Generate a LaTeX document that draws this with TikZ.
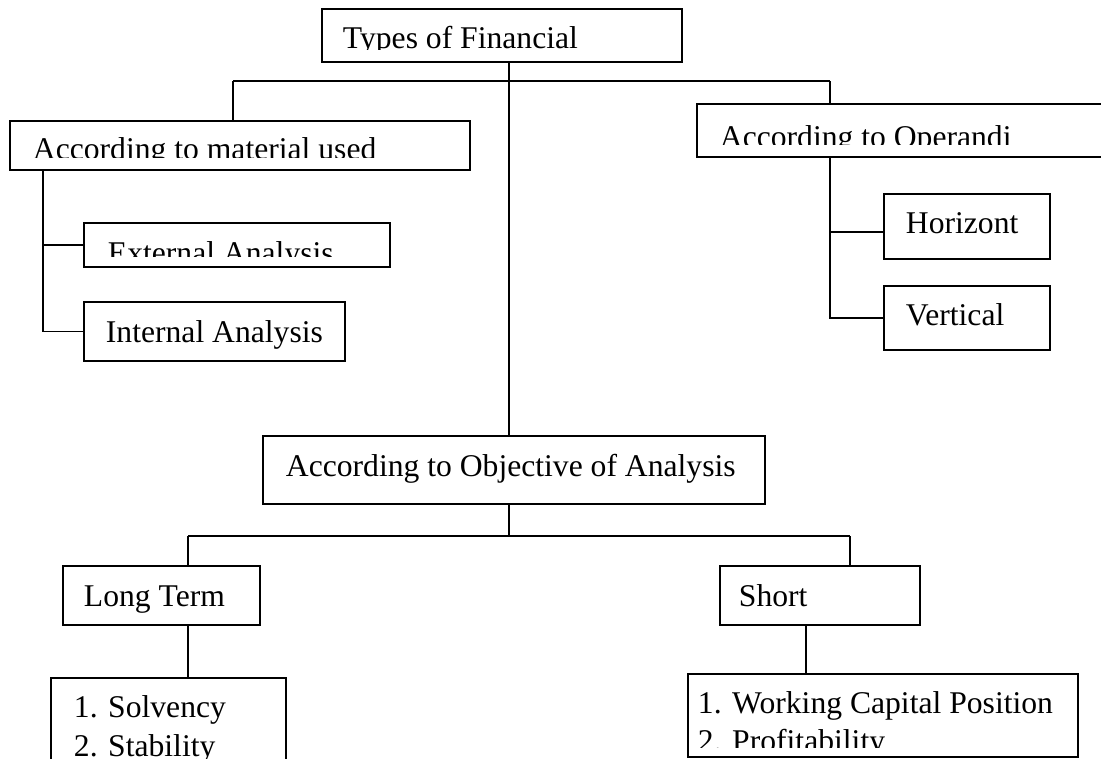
\documentclass[tikz,border=0pt]{standalone}
\usepackage{fontspec}
\setmainfont{Liberation Serif}
\usetikzlibrary{fit}

\begin{document}
\begin{tikzpicture}[x=0.02cm,y=-0.02cm,line width=1.1pt,
  box/.style={draw,inner sep=0pt},
  txt/.style={anchor=base west,inner sep=0pt,font=\fontsize{18}{21}\selectfont}]
\useasboundingbox (0,0) rectangle (1101,758);
\clip (0,0) rectangle (1101,758);
%
% boxes
\node[box,fit={(322,9) (682,62)}] (types) {};
\node[box,fit={(10,121) (470,170)}] (material) {};
\node[box,fit={(697,104) (1130,157)}] (operandi) {};
\node[box,fit={(84,223) (390,267)}] (external) {};
\node[box,fit={(84,302) (345,361)}] (internal) {};
\node[box,fit={(884,194) (1050,259)}] (horizont) {};
\node[box,fit={(884,286) (1050,350)}] (vertical) {};
\node[box,fit={(263,436) (765,504)}] (objective) {};
\node[box,fit={(63,566) (260,625)}] (longterm) {};
\node[box,fit={(720,566) (920,625)}] (shortterm) {};
\node[box,fit={(51,678) (286,800)}] (solvency) {};
\node[box,fit={(688,674) (1078,757)}] (working) {};
%
% texts, some of them cut off by their box
\begin{scope}
\clip (322,9) rectangle (682,49);
\node[txt] (types-t) at (342,48) {Types of Financial};
\end{scope}
\begin{scope}
\clip (10,121) rectangle (470,157.5);
\node[txt] (material-t) at (32,159) {According to material used};
\end{scope}
\begin{scope}
\clip (697,104) rectangle (1101,144);
\node[txt] (operandi-t) at (719,147) {According to Operandi};
\end{scope}
\begin{scope}
\clip (84,223) rectangle (390,256);
\node[txt] (external-t) at (107,263) {External Analysis};
\end{scope}
\node[txt] (internal-t) at (105,342) {Internal Analysis};
\begin{scope}
\clip (884,194) rectangle (1050,236);
\node[txt] (horizont-t) at (905,233) {Horizont};
\end{scope}
\node[txt] (vertical-t) at (905,325) {Vertical};
\node[txt] (objective-t) at (285,476) {According to Objective of Analysis};
\node[txt] (longterm-t) at (83,606) {Long Term};
\node[txt] (shortterm-t) at (738,606) {Short};
\node[txt] (solvency-t1) at (73,717) {1. Solvency};
\node[txt] (solvency-t2) at (73,756) {2. Stability};
\node[txt] (working-t1) at (697,713) {1. Working Capital Position};
\begin{scope}
\clip (688,674) rectangle (1078,747);
\node[txt] (working-t2) at (697,751) {2. Profitability};
\end{scope}
%
% connectors
\coordinate (tj) at (509,81);
\coordinate (lj) at (233,81);
\coordinate (rj) at (830,81);
\coordinate (ml) at (43,0);
\coordinate (hb) at (830,232);
\coordinate (bj) at (509,536);
\coordinate (bl) at (188,536);
\coordinate (br) at (850,536);
\coordinate (lb) at (188,0);
\coordinate (sb) at (806,0);
\draw (types.south -| tj) -- (objective.north -| tj);
\draw (lj) -- (rj);
\draw (lj) -- (lj |- material.north);
\draw (rj) -- (rj |- operandi.north);
\draw (material.south -| ml) |- (external.west);
\draw (material.south -| ml) |- (internal.west);
\draw (operandi.south -| hb) -- (hb) -- (hb -| horizont.west);
\draw (hb) |- (vertical.west);
\draw (objective.south -| bj) -- (bj);
\draw (bl) -- (br);
\draw (bl) -- (bl |- longterm.north);
\draw (br) -- (br |- shortterm.north);
\draw (longterm.south -| lb) -- (solvency.north -| lb);
\draw (shortterm.south -| sb) -- (working.north -| sb);
%
\end{tikzpicture}
\end{document}
